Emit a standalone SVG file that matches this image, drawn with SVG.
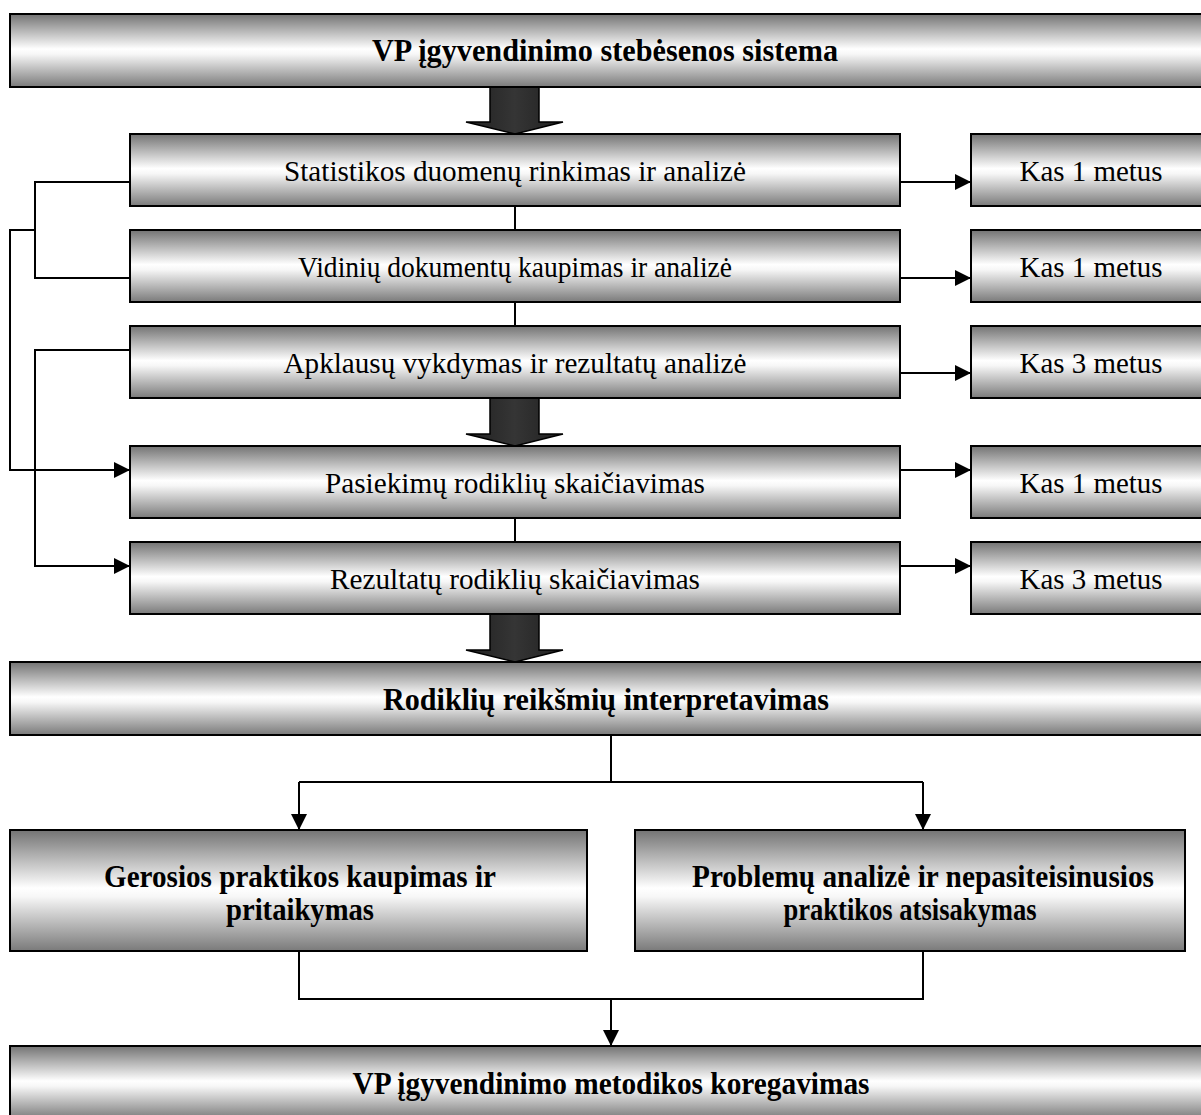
<svg xmlns="http://www.w3.org/2000/svg" width="1201" height="1115" viewBox="0 0 1201 1115">
  <defs>
    <!-- shaded fill used by every box: grey at the edges, white in the middle -->
    <linearGradient id="shade" x1="0" y1="0" x2="0" y2="1">
      <stop offset="0" stop-color="#737373"/>
      <stop offset="0.48" stop-color="#ffffff"/>
      <stop offset="0.55" stop-color="#f7f7f7"/>
      <stop offset="1" stop-color="#7a7a7a"/>
    </linearGradient>
    <linearGradient id="dark" x1="0" y1="0" x2="1" y2="0">
      <stop offset="0" stop-color="#202020"/>
      <stop offset="0.5" stop-color="#353535"/>
      <stop offset="1" stop-color="#202020"/>
    </linearGradient>
    <marker id="tip" markerUnits="userSpaceOnUse" markerWidth="16" markerHeight="16" viewBox="0 0 16 16" refX="16" refY="8" orient="auto">
      <path d="M0,0 L16,8 L0,16 Z" fill="#000"/>
    </marker>
    <style>
      .box { fill: url(#shade); stroke: #000; stroke-width: 2; }
      .blk { fill: url(#dark); stroke: #000; stroke-width: 1.5; }
      .ln { fill: none; stroke: #000; stroke-width: 2; }
      .arr { fill: none; stroke: #000; stroke-width: 2; marker-end: url(#tip); }
      .t { font-family: "Liberation Serif", "Times New Roman", serif; font-size: 30px; fill: #000; text-anchor: middle; }
      .b { font-family: "Liberation Serif", "Times New Roman", serif; font-size: 32px; font-weight: bold; fill: #000; text-anchor: middle; }
    </style>
  </defs>

  <!-- connectors -->
  <g id="connectors">
    <polygon class="blk" points="490,87 539,87 539,122 563,122 515,134 466,122 490,122"/>
    <polygon class="blk" points="490,398 539,398 539,434 563,434 515,446 466,434 490,434"/>
    <polygon class="blk" points="490,614 539,614 539,650 563,650 515,662 466,650 490,650"/>

    <path class="ln" d="M515,206 V230 M515,302 V326 M515,518 V542"/>

    <path class="ln" d="M130,182 H35 V278 H130"/>
    <path class="arr" d="M35,230 H10 V470 H130"/>
    <path class="arr" d="M130,350 H35 V566 H130"/>

    <path class="arr" d="M900,182 H971"/>
    <path class="arr" d="M900,278 H971"/>
    <path class="arr" d="M900,373 H971"/>
    <path class="arr" d="M900,470 H971"/>
    <path class="arr" d="M900,566 H971"/>

    <path class="ln" d="M611,735 V782 M299,782 H923"/>
    <path class="arr" d="M299,782 V830"/>
    <path class="arr" d="M923,782 V830"/>

    <path class="ln" d="M299,951 V999 H923 V951"/>
    <path class="arr" d="M611,999 V1046"/>
  </g>

  <g id="n-system">
    <rect class="box" x="10" y="14" width="1220" height="73"/>
    <text class="b" x="605" y="61" textLength="466" lengthAdjust="spacingAndGlyphs">VP įgyvendinimo stebėsenos sistema</text>
  </g>

  <g id="n-stat">
    <rect class="box" x="130" y="134" width="770" height="72"/>
    <text class="t" x="515" y="181" textLength="462" lengthAdjust="spacingAndGlyphs">Statistikos duomenų rinkimas ir analizė</text>
  </g>
  <g id="n-vid">
    <rect class="box" x="130" y="230" width="770" height="72"/>
    <text class="t" x="515" y="277" textLength="434" lengthAdjust="spacingAndGlyphs">Vidinių dokumentų kaupimas ir analizė</text>
  </g>
  <g id="n-apkl">
    <rect class="box" x="130" y="326" width="770" height="72"/>
    <text class="t" x="515" y="373" textLength="463" lengthAdjust="spacingAndGlyphs">Apklausų vykdymas ir rezultatų analizė</text>
  </g>
  <g id="n-pasiek">
    <rect class="box" x="130" y="446" width="770" height="72"/>
    <text class="t" x="515" y="493" textLength="380" lengthAdjust="spacingAndGlyphs">Pasiekimų rodiklių skaičiavimas</text>
  </g>
  <g id="n-rez">
    <rect class="box" x="130" y="542" width="770" height="72"/>
    <text class="t" x="515" y="589" textLength="370" lengthAdjust="spacingAndGlyphs">Rezultatų rodiklių skaičiavimas</text>
  </g>

  <g id="n-freq1">
    <rect class="box" x="971" y="134" width="260" height="72"/>
    <text class="t" x="1091" y="181" textLength="143" lengthAdjust="spacingAndGlyphs">Kas 1 metus</text>
  </g>
  <g id="n-freq2">
    <rect class="box" x="971" y="230" width="260" height="72"/>
    <text class="t" x="1091" y="277" textLength="143" lengthAdjust="spacingAndGlyphs">Kas 1 metus</text>
  </g>
  <g id="n-freq3">
    <rect class="box" x="971" y="326" width="260" height="72"/>
    <text class="t" x="1091" y="373" textLength="143" lengthAdjust="spacingAndGlyphs">Kas 3 metus</text>
  </g>
  <g id="n-freq4">
    <rect class="box" x="971" y="446" width="260" height="72"/>
    <text class="t" x="1091" y="493" textLength="143" lengthAdjust="spacingAndGlyphs">Kas 1 metus</text>
  </g>
  <g id="n-freq5">
    <rect class="box" x="971" y="542" width="260" height="72"/>
    <text class="t" x="1091" y="589" textLength="143" lengthAdjust="spacingAndGlyphs">Kas 3 metus</text>
  </g>

  <g id="n-interp">
    <rect class="box" x="10" y="662" width="1220" height="73"/>
    <text class="b" x="606" y="710" textLength="446" lengthAdjust="spacingAndGlyphs">Rodiklių reikšmių interpretavimas</text>
  </g>

  <g id="n-good">
    <rect class="box" x="10" y="830" width="577" height="121"/>
    <text class="b" x="300" y="887" textLength="392" lengthAdjust="spacingAndGlyphs">Gerosios praktikos kaupimas ir</text>
    <text class="b" x="300" y="920" textLength="148" lengthAdjust="spacingAndGlyphs">pritaikymas</text>
  </g>
  <g id="n-problem">
    <rect class="box" x="635" y="830" width="550" height="121"/>
    <text class="b" x="923" y="887" textLength="462" lengthAdjust="spacingAndGlyphs">Problemų analizė ir nepasiteisinusios</text>
    <text class="b" x="910" y="920" textLength="253" lengthAdjust="spacingAndGlyphs">praktikos atsisakymas</text>
  </g>

  <g id="n-correct">
    <rect class="box" x="10" y="1046" width="1220" height="73"/>
    <text class="b" x="611" y="1094" textLength="517" lengthAdjust="spacingAndGlyphs">VP įgyvendinimo metodikos koregavimas</text>
  </g>
</svg>
